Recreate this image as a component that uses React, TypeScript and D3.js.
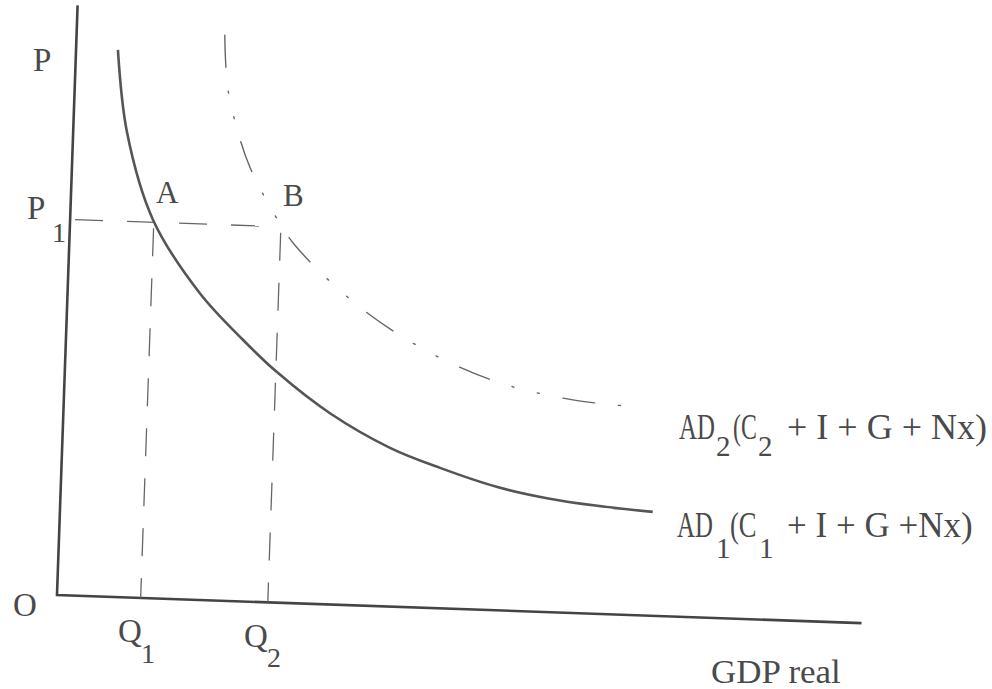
import React from "react";
import * as d3 from "d3";

// AD1 (solid) curve: real GDP (0-100) vs price level (0-100)
const ad1Q = [5.2, 6.7, 10.3, 16.4, 22.0, 26.3, 33.1, 40.7, 47.0, 54.2, 60.4, 66.7, 73.6];
const ad1P = [92.7, 78.7, 64.1, 52.0, 44.3, 39.1, 32.4, 26.9, 23.8, 20.9, 19.3, 18.3, 17.6];
// AD2 (dash-dot) curve
const ad2Q = [18.4, 19.0, 20.7, 22.1, 25.0, 28.0, 36.0, 44.6, 53.7, 63.2, 69.5];
const ad2P = [95.8, 86.9, 78.5, 73.6, 66.5, 60.7, 50.9, 43.7, 38.7, 36.1, 35.4];
// equilibrium points
const pointNames = ["A", "B"];
const pointQ = [10.4, 26.2];
const pointP = [63.7, 63.7];

const W = 992;
const H = 689;
const ORIGIN_X = 57;
const ORIGIN_Y = 595;
const TILT = 2;

const INK = "#4a4a4a";
const FONT = "'Liberation Serif', 'Times New Roman', serif";

function T({
  s,
  x,
  y,
  size,
  sx = 1,
}: {
  s: string;
  x: number;
  y: number;
  size: number;
  sx?: number;
}) {
  return (
    <text
      transform={`translate(${x},${y}) scale(${sx},1)`}
      fontSize={size}
      fill={INK}
      fontFamily={FONT}
    >
      {s}
    </text>
  );
}

export default function App() {
  const x = d3.scaleLinear().domain([0, 100]).range([ORIGIN_X, 862]);
  const y = d3.scaleLinear().domain([0, 100]).range([ORIGIN_Y, 5]);
  const line = d3
    .line<[number, number]>()
    .x((d) => x(d[0]))
    .y((d) => y(d[1]))
    .curve(d3.curveCatmullRom.alpha(0.5));
  const ad1 = line(ad1Q.map((q, i) => [q, ad1P[i]]) as [number, number][]) || "";
  const ad2 = line(ad2Q.map((q, i) => [q, ad2P[i]]) as [number, number][]) || "";
  const qB = pointQ[1];
  const pLevel = pointP[0];

  return (
    <svg
      width={W}
      height={H}
      style={{ position: "absolute", left: 0, top: 0, background: "#fff" }}
    >
      <g transform={`rotate(${TILT},${ORIGIN_X},${ORIGIN_Y})`}>
        {/* axes */}
        <path
          d={`M${x(0)},${y(100)}L${x(0)},${y(0)}L${x(100)},${y(0)}`}
          fill="none"
          stroke="#444"
          strokeWidth={2.6}
        />
        {/* P1 horizontal guide */}
        <line
          x1={x(0)}
          y1={y(pLevel)}
          x2={x(qB)}
          y2={y(pLevel)}
          stroke="#666"
          strokeWidth={1.3}
          strokeDasharray="28 24"
          strokeDashoffset={-5}
        />
        {/* Q1 and Q2 verticals */}
        {pointQ.map((q, i) => (
          <line
            key={i}
            x1={x(q)}
            y1={y(pLevel) + 6}
            x2={x(q)}
            y2={y(0)}
            stroke="#666"
            strokeWidth={1.3}
            strokeDasharray="28 22"
          />
        ))}
        {/* AD2 dash-dot */}
        <path
          d={ad2}
          fill="none"
          stroke="#666"
          strokeWidth={1.4}
          strokeDasharray="32 24 2 24 2 24"
          strokeLinecap="round"
        />
        {/* AD1 solid */}
        <path d={ad1} fill="none" stroke="#555" strokeWidth={2.6} />
      </g>

      {/* axis labels */}
      <T s="P" x={33} y={71} size={33} />
      <T s="P" x={27} y={219} size={33} />
      <T s="1" x={52} y={242} size={28} />
      <T s="O" x={13} y={616} size={33} />
      <T s="Q" x={118} y={642} size={33} />
      <T s="1" x={141} y={663} size={28} />
      <T s="Q" x={244} y={647} size={33} />
      <T s="2" x={267} y={667} size={28} />
      <T s="GDP real" x={711} y={683} size={33} sx={1.06} />
      {/* point labels */}
      <T s={pointNames[0]} x={156} y={203} size={31} />
      <T s={pointNames[1]} x={283} y={206} size={31} />
      {/* AD2 label */}
      <T s="AD" x={679} y={439} size={35} sx={0.71} />
      <T s="2" x={716} y={456} size={29} />
      <T s="(C" x={733} y={439} size={35} sx={0.68} />
      <T s="2" x={758} y={456} size={29} />
      <T s="+ I + G + Nx)" x={787} y={439} size={35} sx={1.03} />
      {/* AD1 label */}
      <T s="AD" x={677} y={537} size={35} sx={0.71} />
      <T s="1" x={716} y={558} size={29} />
      <T s="(C" x={730} y={537} size={35} sx={0.76} />
      <T s="1" x={759} y={558} size={29} />
      <T s="+ I + G +Nx)" x={787} y={537} size={35} sx={1.0} />
    </svg>
  );
}
